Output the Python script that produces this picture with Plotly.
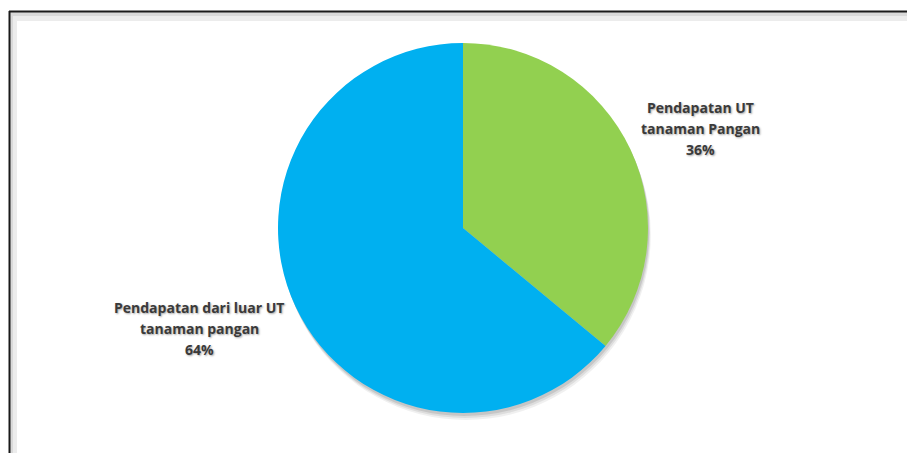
import plotly.graph_objects as go

labels = ["Pendapatan UT tanaman Pangan", "Pendapatan dari luar UT tanaman pangan"]
values = [36, 64]
label_lines = [["Pendapatan UT", "tanaman Pangan"], ["Pendapatan dari luar UT", "tanaman pangan"]]
colors = ["#92D050", "#00B0F0"]

W, H = 907, 453

def px(x):
    return x / W

def py(y):
    return 1 - y / H

cx, cy, r = 463, 228, 185

fig = go.Figure()

# soft drop shadow
for off, alpha in [(7, 0.06), (5, 0.08), (3, 0.10)]:
    fig.add_trace(go.Pie(
        labels=labels, values=values, sort=False, direction="clockwise", rotation=0,
        marker=dict(colors=[f"rgba(0,0,0,{alpha})"] * len(values), line=dict(width=0)),
        textinfo="none", hoverinfo="skip", showlegend=False,
        domain=dict(x=[px(cx - r + off * 0.4), px(cx + r + off * 0.4)],
                    y=[py(cy + r + off), py(cy - r + off)]),
    ))

fig.add_trace(go.Pie(
    labels=labels, values=values, sort=False, direction="clockwise", rotation=0,
    marker=dict(colors=colors, line=dict(width=0)),
    textinfo="none", showlegend=False,
    domain=dict(x=[px(cx - r), px(cx + r)], y=[py(cy + r), py(cy - r)]),
))

label_pos = [(700, 107), (199, 307)]
line_gap = 21
for (lx, ly), lines, v in zip(label_pos, label_lines, values):
    for i, t in enumerate(lines + [f"{v}%"]):
        fig.add_annotation(
            x=px(lx), y=py(ly + i * line_gap), xref="paper", yref="paper",
            xanchor="center", yanchor="middle",
            text=f"<b>{t}</b>", showarrow=False, align="center",
            font=dict(family="Open Sans", size=14, color="#3a3a3a",
                      shadow="1px 1px 2px rgba(0,0,0,0.35)"),
        )

shapes = [
    # inner gray bevel
    dict(type="rect", x0=px(10), x1=px(W + 5), y0=py(H + 5), y1=py(12),
         fillcolor="#d9d9d9", line=dict(width=0), layer="below"),
    dict(type="rect", x0=px(13), x1=px(W + 5), y0=py(H + 5), y1=py(16),
         fillcolor="#ececec", line=dict(width=0), layer="below"),
    dict(type="rect", x0=px(17), x1=px(W + 5), y0=py(H + 5), y1=py(21),
         fillcolor="white", line=dict(width=0), layer="below"),
    # black border lines
    dict(type="line", x0=px(9.5), x1=px(9.5), y0=py(11), y1=py(H + 5),
         line=dict(color="#1a1a1a", width=2)),
    dict(type="line", x0=px(9), x1=px(W + 5), y0=py(11.5), y1=py(11.5),
         line=dict(color="#1a1a1a", width=2)),
]

fig.update_layout(
    width=W, height=H,
    margin=dict(l=0, r=0, t=0, b=0),
    paper_bgcolor="white", plot_bgcolor="white",
    shapes=shapes,
    showlegend=False,
)

fig.write_html("out.html")
